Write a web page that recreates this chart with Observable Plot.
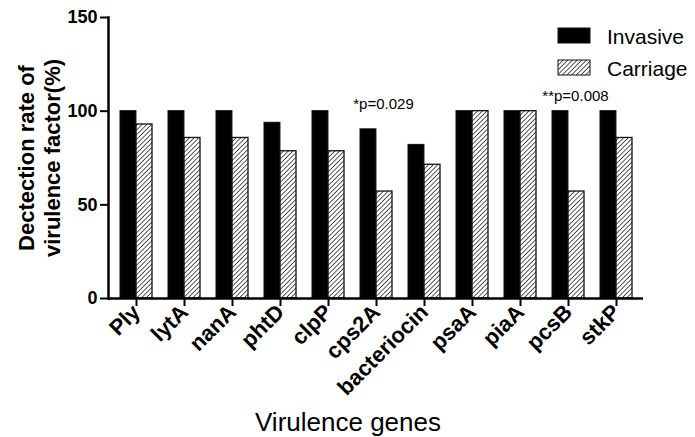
<!DOCTYPE html>
<html><head><meta charset="utf-8">
<script src="https://cdn.jsdelivr.net/npm/d3@7"></script>
<script src="https://cdn.jsdelivr.net/npm/@observablehq/plot@0.6"></script>
<style>
body{margin:0;background:#fff;}
#wrap{position:relative;width:695px;height:437px;}
#legend{position:absolute;left:0;top:0;pointer-events:none;}
</style></head><body><div id="wrap"></div>
<script>
const genes = ["Ply","lytA","nanA","phtD","clpP","cps2A","bacteriocin","psaA","piaA","pcsB","stkP"];
const invasive = [100,100,100,93.8,100,90.3,82.0,100,100,100,100];
const carriage = [92.9,85.7,85.7,78.6,78.6,57.1,71.4,100,100,57.1,85.7];
const seriesNames = ["Invasive","Carriage"];
const yTicks = [0,50,100,150];
const annotGenes = ["cps2A","pcsB"];
const annotLabels = ["*p=0.029","**p=0.008"];
const annotY = [103.5,108];
const yTitle = "Dectection rate of\nvirulence factor(%)";
const xTitle = "Virulence genes";

const invRows = genes.map((g,i)=>({gene:g,type:seriesNames[0],value:invasive[i]}));
const carRows = genes.map((g,i)=>({gene:g,type:seriesNames[1],value:carriage[i]}));
const annots = annotGenes.map((g,i)=>({gene:g,label:annotLabels[i],y:annotY[i]}));

const W=695,H=437,ML=108,MR=52,MT=17,MB=139,PAD=0.34;
const step=(W-ML-MR)/genes.length;
const half=step*(1-PAD)/2;
const font="Liberation Sans, Arial, Helvetica, sans-serif";

const plot = Plot.plot({
  width:W,height:H,marginLeft:ML,marginRight:MR,marginTop:MT,marginBottom:MB,
  style:{fontFamily:font,background:"#fff",color:"#000"},
  x:{domain:genes,paddingInner:PAD,paddingOuter:PAD/2,label:null},
  y:{domain:[0,150],label:null},
  marks:[
    Plot.barY(invRows,{x:"gene",y:"value",fill:"#000",stroke:"#111",strokeWidth:1,insetRight:half}),
    Plot.barY(carRows,{x:"gene",y:"value",fill:"url(#hatch)",stroke:"#111",strokeWidth:1.3,insetLeft:half}),
    Plot.axisY({ticks:yTicks,tickSize:8,tickPadding:3,fontSize:18,fontWeight:"bold",strokeWidth:2,label:null}),
    Plot.axisX({tickSize:8,tickPadding:2,tickRotate:-45,fontSize:22,fontWeight:"bold",strokeWidth:2,label:null}),
    Plot.ruleY([0],{strokeWidth:2.5}),
    Plot.frame({anchor:"left",strokeWidth:2.5}),
    Plot.text(annots,{x:"gene",y:"y",text:"label",fontSize:15,dx:7,textAnchor:"middle",lineAnchor:"middle"}),
    Plot.text([yTitle],{frameAnchor:"left",dx:-70,rotate:-90,fontSize:22,fontWeight:"bold",lineHeight:1.18,textAnchor:"middle",lineAnchor:"middle"}),
    Plot.text([xTitle],{frameAnchor:"bottom",dx:-28,dy:124,fontSize:26,textAnchor:"middle",lineAnchor:"middle"})
  ]
});
plot.insertAdjacentHTML("afterbegin",
  '<defs><pattern id="hatch" patternUnits="userSpaceOnUse" width="3.3" height="3.3" patternTransform="rotate(45)">'+
  '<rect width="3.3" height="3.3" fill="#fff"/><line x1="0" y1="0" x2="0" y2="3.3" stroke="#000" stroke-width="1.3"/></pattern></defs>');
const wrap=document.getElementById("wrap");
wrap.appendChild(plot);

// legend
const lg=d3.select(wrap).append("svg").attr("id","legend").attr("width",W).attr("height",H);
const rows=lg.selectAll("g").data(seriesNames).join("g")
  .attr("transform",(d,i)=>`translate(558,${28+i*32})`);
rows.append("rect").attr("width",32).attr("height",15)
  .attr("fill",(d,i)=>i===0?"#000":"url(#hatch)").attr("stroke","#111").attr("stroke-width",1);
rows.append("text").attr("x",49).attr("y",15.5).attr("font-size",21)
  .attr("font-family",font).attr("fill","#000").text(d=>d);
</script></body></html>
